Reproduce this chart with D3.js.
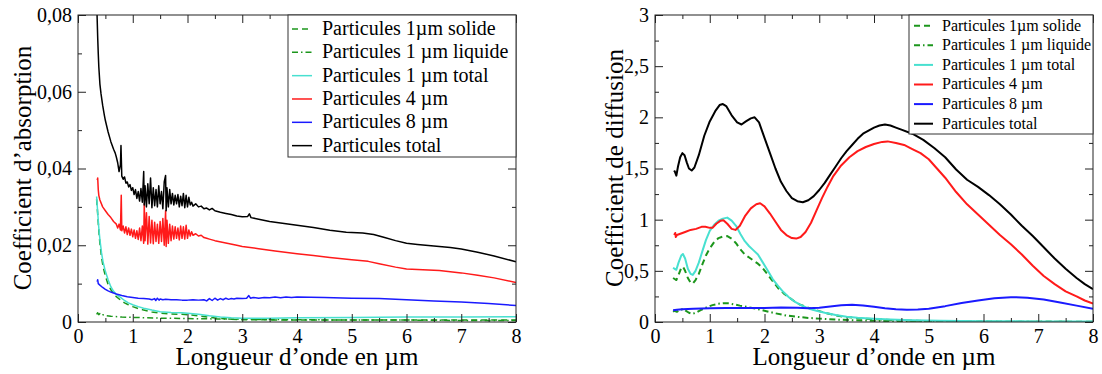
<!DOCTYPE html>
<html><head><meta charset="utf-8">
<script src="https://cdn.jsdelivr.net/npm/d3@7"></script>
<style>
body{margin:0;background:#fff}
svg{display:block}
</style>
</head><body>
<svg id="c" width="1102" height="374" style="font-family:'Liberation Serif','Tinos','DejaVu Serif',serif"></svg>
<script>
const FONT = "'Liberation Serif','Tinos','DejaVu Serif',serif";
// ---------- tick definitions ----------
const xTicks = [0,1,2,3,4,5,6,7,8];
const xMinorTicks = [0.5,1.5,2.5,3.5,4.5,5.5,6.5,7.5];
const absYTicks = [0,0.02,0.04,0.06,0.08];
const absYLabels = ["0","0,02","0,04","0,06","0,08"];
const absYMinor = [0.01,0.03,0.05,0.07];
const difYTicks = [0,0.5,1,1.5,2,2.5,3];
const difYLabels = ["0","0,5","1","1,5","2","2,5","3"];
const difYMinor = [0.25,0.75,1.25,1.75,2.25,2.75];

// ---------- legend ----------
const seriesNames = ["Particules 1µm solide","Particules 1 µm liquide","Particules 1 µm total","Particules 4 µm","Particules 8 µm","Particules total"];
const seriesColors = ["#1c961c","#1c961c","#48e0d0","#ff1a1a","#1a1aff","#000000"];
const seriesDash = ["6,4","6,3,1.5,3",null,null,null,null];

// ---------- absorption (left) : [wavelength µm, value] ----------
const absSolid = [[0.34,0.0320],[0.36,0.0280],[0.38,0.0238],[0.40,0.0205],[0.43,0.0168],[0.46,0.0143],[0.50,0.0120],[0.55,0.0098],[0.60,0.0084],[0.65,0.0074],[0.70,0.0066],[0.77,0.0058],[0.85,0.0050],[0.92,0.0045],[1.00,0.0040],[1.10,0.0035],[1.20,0.0031],[1.35,0.0026],[1.50,0.0023],[1.70,0.0021],[1.90,0.0020],[2.00,0.0019],[2.20,0.0016],[2.40,0.0012],[2.60,0.0009],[2.80,0.0007],[3.00,0.0006],[4.00,0.0005],[5.00,0.0005],[6.00,0.0005],[7.00,0.0005],[8.00,0.0005]];
const absLiquid = [[0.34,0.0020],[0.36,0.0024],[0.38,0.0019],[0.40,0.0022],[0.42,0.0018],[0.45,0.0019],[0.50,0.0017],[0.60,0.0015],[0.80,0.0013],[1.00,0.0012],[1.50,0.0010],[2.00,0.0009],[2.50,0.0008],[3.00,0.0007],[4.00,0.0006],[5.00,0.0005],[6.00,0.0005],[7.00,0.0004],[8.00,0.0004]];
const absOneTotal = [[0.34,0.0327],[0.36,0.0285],[0.38,0.0245],[0.40,0.0215],[0.43,0.0180],[0.46,0.0155],[0.50,0.0132],[0.55,0.0110],[0.60,0.0092],[0.65,0.0080],[0.70,0.0072],[0.77,0.0065],[0.85,0.0056],[0.92,0.0050],[1.00,0.0045],[1.10,0.0040],[1.20,0.0036],[1.35,0.0031],[1.50,0.0027],[1.70,0.0025],[1.90,0.0024],[2.00,0.0023],[2.20,0.0020],[2.40,0.0016],[2.60,0.0013],[2.80,0.0011],[3.00,0.0010],[3.50,0.0010],[4.00,0.0011],[5.00,0.0012],[6.00,0.0013],[7.00,0.0013],[8.00,0.0014]];
const absFour = [[0.35,0.0370],[0.36,0.0375],[0.37,0.0345],[0.38,0.0330],[0.40,0.0318],[0.45,0.0300],[0.50,0.0290],[0.55,0.0280],[0.60,0.0272],[0.65,0.0262],[0.70,0.0255],
[0.725,0.0245],[0.75,0.0255],[0.775,0.0240],[0.79,0.0330],[0.80,0.0238],[0.825,0.0250],[0.85,0.0232],[0.875,0.0248],[0.90,0.0228],[0.925,0.0245],[0.95,0.0226],[0.975,0.0242],[1.00,0.0222],[1.025,0.0240],[1.05,0.0218],[1.075,0.0238],[1.10,0.0215],[1.125,0.0245],[1.15,0.0212],[1.175,0.0250],[1.20,0.0205],[1.21,0.0308],[1.225,0.0212],[1.25,0.0285],[1.275,0.0203],[1.30,0.0275],[1.325,0.0206],[1.35,0.0265],[1.375,0.0204],[1.40,0.0260],[1.425,0.0210],[1.45,0.0255],[1.475,0.0205],[1.50,0.0262],[1.525,0.0210],[1.55,0.0270],[1.575,0.0200],[1.60,0.0290],[1.61,0.0197],[1.625,0.0265],[1.65,0.0205],[1.675,0.0255],[1.70,0.0212],[1.725,0.0250],[1.75,0.0216],[1.775,0.0248],[1.80,0.0218],[1.825,0.0245],[1.85,0.0214],[1.875,0.0250],[1.90,0.0218],[1.925,0.0248],[1.95,0.0216],[1.975,0.0252],[2.00,0.0218],[2.025,0.0240],[2.05,0.0224],[2.075,0.0235],[2.10,0.0226],
[2.15,0.0230],[2.20,0.0224],[2.25,0.0226],[2.30,0.0220],[2.35,0.0218],[2.40,0.0216],[2.50,0.0212],[2.70,0.0206],[2.90,0.0200],[3.00,0.0197],[3.30,0.0191],[3.60,0.0185],[4.00,0.0178],[4.30,0.0173],[4.60,0.0168],[5.00,0.0162],[5.30,0.0158],[5.50,0.0152],[5.80,0.0143],[6.00,0.0138],[6.30,0.0136],[6.60,0.0134],[7.00,0.0128],[7.30,0.0122],[7.60,0.0115],[8.00,0.0103]];
const absEight = [[0.35,0.0105],[0.36,0.0110],[0.37,0.0100],[0.40,0.0096],[0.45,0.0090],[0.50,0.0085],[0.55,0.0081],[0.60,0.0078],[0.70,0.0073],[0.80,0.0069],[0.90,0.0066],[1.00,0.0064],[1.10,0.0062],[1.20,0.0061],[1.30,0.0060],[1.35,0.0058],[1.40,0.0061],[1.42,0.0056],[1.45,0.0062],[1.48,0.0057],[1.50,0.0060],[1.55,0.0058],[1.60,0.0059],[1.70,0.0058],[1.80,0.0058],[1.90,0.0057],[2.00,0.0057],[2.10,0.0058],[2.20,0.0057],[2.30,0.0058],[2.35,0.0055],[2.40,0.0061],[2.45,0.0056],[2.50,0.0062],[2.55,0.0057],[2.60,0.0061],[2.65,0.0058],[2.70,0.0062],[2.75,0.0059],[2.80,0.0061],[2.85,0.0060],[2.90,0.0062],[3.00,0.0061],[3.08,0.0062],[3.12,0.0069],[3.15,0.0062],[3.20,0.0064],[3.30,0.0062],[3.40,0.0064],[3.50,0.0063],[3.60,0.0065],[3.70,0.0063],[3.80,0.0065],[3.90,0.0064],[4.00,0.0065],[4.50,0.0064],[5.00,0.0062],[5.50,0.0061],[6.00,0.0058],[6.50,0.0055],[7.00,0.0052],[7.50,0.0048],[8.00,0.0043]];
const absTotal = [[0.345,0.0820],[0.35,0.0790],[0.36,0.0740],[0.37,0.0700],[0.38,0.0665],[0.40,0.0620],[0.42,0.0595],[0.45,0.0565],[0.48,0.0540],[0.50,0.0525],[0.55,0.0495],[0.60,0.0470],[0.65,0.0450],[0.68,0.0440],[0.70,0.0430],
[0.725,0.0415],[0.75,0.0392],[0.775,0.0410],[0.785,0.0460],[0.80,0.0380],[0.825,0.0372],[0.85,0.0378],[0.875,0.0362],[0.90,0.0365],[0.925,0.0352],[0.95,0.0358],[0.975,0.0343],[1.00,0.0350],[1.025,0.0332],[1.05,0.0345],[1.075,0.0322],[1.10,0.0340],[1.125,0.0315],[1.15,0.0348],[1.175,0.0312],[1.20,0.0392],[1.21,0.0305],[1.225,0.0355],[1.25,0.0300],[1.275,0.0360],[1.30,0.0308],[1.325,0.0375],[1.35,0.0298],[1.375,0.0350],[1.40,0.0303],[1.425,0.0345],[1.45,0.0300],[1.475,0.0355],[1.50,0.0308],[1.525,0.0340],[1.55,0.0295],[1.575,0.0365],[1.60,0.0382],[1.61,0.0290],[1.625,0.0350],[1.65,0.0300],[1.675,0.0345],[1.70,0.0308],[1.725,0.0335],[1.75,0.0305],[1.775,0.0330],[1.80,0.0308],[1.825,0.0332],[1.85,0.0300],[1.875,0.0328],[1.90,0.0303],[1.925,0.0335],[1.95,0.0298],[1.975,0.0330],[2.00,0.0300],[2.025,0.0325],[2.05,0.0305],[2.075,0.0312],[2.10,0.0302],
[2.15,0.0308],[2.20,0.0300],[2.25,0.0302],[2.30,0.0295],[2.35,0.0297],[2.40,0.0292],[2.45,0.0296],[2.50,0.0290],[2.60,0.0286],[2.70,0.0283],[2.80,0.0280],[2.90,0.0276],[3.00,0.0274],[3.10,0.0275],[3.13,0.0282],[3.16,0.0272],[3.30,0.0268],[3.50,0.0262],[3.70,0.0258],[4.00,0.0252],[4.30,0.0246],[4.60,0.0239],[4.90,0.0234],[5.20,0.0232],[5.40,0.0228],[5.60,0.0220],[5.80,0.0212],[6.00,0.0205],[6.20,0.0202],[6.50,0.0198],[6.80,0.0194],[7.00,0.0190],[7.30,0.0182],[7.60,0.0172],[8.00,0.0157]];

// ---------- diffusion (right) : [wavelength µm, value] ----------
const difSolid = [[0.33,0.43],[0.36,0.42],[0.39,0.41],[0.43,0.46],[0.48,0.53],[0.51,0.54],[0.55,0.50],[0.60,0.43],[0.65,0.385],[0.69,0.375],[0.74,0.41],[0.80,0.47],[0.87,0.57],[0.93,0.65],[1.00,0.72],[1.08,0.78],[1.16,0.82],[1.24,0.835],[1.32,0.84],[1.40,0.815],[1.48,0.77],[1.56,0.71],[1.64,0.66],[1.72,0.63],[1.80,0.60],[1.88,0.57],[1.96,0.53],[2.05,0.47],[2.15,0.40],[2.25,0.33],[2.35,0.28],[2.45,0.24],[2.55,0.20],[2.65,0.17],[2.75,0.15],[2.85,0.13],[2.95,0.115],[3.10,0.09],[3.30,0.065],[3.50,0.048],[3.70,0.038],[4.00,0.027],[4.30,0.02],[4.70,0.013],[5.20,0.007],[6.00,0.004],[7.00,0.003],[8.00,0.002]];
const difLiquid = [[0.33,0.10],[0.36,0.11],[0.40,0.10],[0.45,0.115],[0.50,0.125],[0.55,0.115],[0.62,0.09],[0.68,0.08],[0.75,0.09],[0.85,0.12],[0.95,0.145],[1.05,0.165],[1.15,0.178],[1.25,0.183],[1.35,0.182],[1.45,0.172],[1.55,0.16],[1.70,0.145],[1.85,0.13],[2.00,0.11],[2.20,0.085],[2.40,0.063],[2.60,0.05],[2.80,0.04],[3.00,0.033],[3.30,0.024],[3.60,0.018],[4.00,0.012],[4.50,0.007],[5.00,0.004],[6.00,0.002],[8.00,0.001]];
const difOneTotal = [[0.33,0.53],[0.36,0.52],[0.39,0.51],[0.43,0.58],[0.48,0.65],[0.51,0.665],[0.55,0.62],[0.60,0.52],[0.65,0.47],[0.69,0.46],[0.74,0.50],[0.80,0.58],[0.87,0.70],[0.93,0.80],[1.00,0.89],[1.08,0.95],[1.16,0.99],[1.24,1.01],[1.32,1.02],[1.40,0.99],[1.48,0.94],[1.56,0.86],[1.64,0.79],[1.72,0.74],[1.80,0.70],[1.88,0.66],[1.96,0.59],[2.05,0.51],[2.15,0.42],[2.25,0.35],[2.35,0.29],[2.45,0.24],[2.55,0.20],[2.65,0.17],[2.75,0.145],[2.85,0.125],[2.95,0.11],[3.10,0.09],[3.30,0.068],[3.50,0.052],[3.70,0.042],[4.00,0.032],[4.30,0.025],[4.70,0.018],[5.20,0.012],[6.00,0.008],[7.00,0.006],[8.00,0.005]];
const difFour = [[0.35,0.85],[0.37,0.87],[0.38,0.83],[0.40,0.85],[0.45,0.86],[0.55,0.88],[0.65,0.90],[0.75,0.91],[0.85,0.93],[0.92,0.93],[1.00,0.92],[1.05,0.92],[1.12,0.96],[1.20,0.99],[1.25,0.995],[1.32,0.96],[1.40,0.91],[1.47,0.90],[1.55,0.94],[1.65,1.04],[1.75,1.11],[1.85,1.15],[1.92,1.16],[2.00,1.13],[2.10,1.06],[2.20,0.98],[2.30,0.90],[2.40,0.85],[2.50,0.82],[2.58,0.815],[2.66,0.83],[2.75,0.88],[2.85,0.97],[2.95,1.09],[3.05,1.21],[3.15,1.32],[3.25,1.42],[3.40,1.53],[3.55,1.61],[3.70,1.67],[3.85,1.71],[4.00,1.74],[4.15,1.76],[4.25,1.765],[4.40,1.75],[4.55,1.73],[4.70,1.69],[4.85,1.65],[5.00,1.59],[5.15,1.50],[5.30,1.41],[5.50,1.27],[5.70,1.15],[5.90,1.05],[6.10,0.95],[6.30,0.85],[6.50,0.76],[6.70,0.66],[6.90,0.55],[7.10,0.45],[7.30,0.37],[7.50,0.30],[7.70,0.25],[7.85,0.21],[8.00,0.18]];
const difEight = [[0.33,0.115],[0.40,0.12],[0.50,0.125],[0.70,0.13],[1.00,0.135],[1.30,0.137],[1.60,0.137],[2.00,0.138],[2.30,0.142],[2.60,0.14],[2.80,0.135],[3.00,0.14],[3.20,0.152],[3.40,0.163],[3.60,0.168],[3.80,0.162],[4.00,0.148],[4.20,0.135],[4.40,0.125],[4.60,0.12],[4.80,0.122],[5.00,0.13],[5.30,0.155],[5.60,0.185],[5.90,0.21],[6.20,0.232],[6.50,0.243],[6.80,0.238],[7.10,0.22],[7.40,0.19],[7.70,0.16],[8.00,0.13]];
const difTotal = [[0.35,1.48],[0.37,1.46],[0.39,1.43],[0.42,1.52],[0.46,1.61],[0.50,1.65],[0.54,1.63],[0.58,1.56],[0.62,1.50],[0.67,1.48],[0.72,1.51],[0.80,1.63],[0.90,1.82],[1.00,1.96],[1.10,2.06],[1.18,2.12],[1.24,2.13],[1.30,2.11],[1.40,2.02],[1.50,1.95],[1.58,1.93],[1.66,1.96],[1.75,1.99],[1.82,2.00],[1.90,1.95],[2.00,1.80],[2.10,1.65],[2.20,1.50],[2.30,1.37],[2.40,1.28],[2.50,1.21],[2.60,1.18],[2.70,1.17],[2.80,1.19],[2.90,1.23],[3.00,1.29],[3.10,1.36],[3.20,1.44],[3.30,1.52],[3.40,1.60],[3.50,1.67],[3.60,1.73],[3.70,1.79],[3.80,1.84],[3.90,1.87],[4.00,1.90],[4.10,1.92],[4.20,1.93],[4.30,1.92],[4.40,1.90],[4.50,1.88],[4.70,1.84],[4.90,1.78],[5.10,1.70],[5.30,1.61],[5.50,1.49],[5.70,1.39],[5.90,1.32],[6.10,1.24],[6.30,1.15],[6.50,1.05],[6.70,0.94],[6.90,0.84],[7.10,0.73],[7.30,0.62],[7.50,0.52],[7.70,0.43],[7.85,0.37],[8.00,0.32]];

const svg = d3.select("#c");
svg.append("rect").attr("width",1102).attr("height",374).attr("fill","#fff");

function txt(sel){ return sel.style("font-family",FONT).style("fill","#000"); }

function panel(cfg){
  const x = d3.scaleLinear().domain([0,8]).range([cfg.x0,cfg.x1]);
  const y = d3.scaleLinear().domain([0,cfg.yMax]).range([322,15]);
  const g = svg.append("g");
  const clipId = "clip"+cfg.id;
  svg.append("clipPath").attr("id",clipId).append("rect")
    .attr("x",cfg.x0).attr("y",15).attr("width",cfg.x1-cfg.x0).attr("height",307);

  const line = d3.line().x(d=>x(d[0])).y(d=>y(d[1]));
  const cg = g.append("g").attr("clip-path",`url(#${clipId})`);
  cfg.series.forEach((s,i)=>{
    cg.append("path").attr("d",line(s)).attr("fill","none")
      .attr("stroke",seriesColors[i]).attr("stroke-width",cfg.lw)
      .attr("stroke-linejoin","round")
      .attr("stroke-dasharray",seriesDash[i]);
  });

  const fmtX = d=>String(d);
  const yLab = new Map(cfg.yTicks.map((v,i)=>[v,cfg.yLabels[i]]));
  const styleAx = sel=>{
    sel.attr("font-family",null).attr("font-size",null);
    sel.select(".domain").remove();
    sel.selectAll("line").attr("stroke","#222");
    txt(sel.selectAll("text")).style("font-size","20px");
  };
  g.append("g").attr("transform","translate(0,322)")
    .call(d3.axisBottom(x).tickValues(xTicks).tickSize(-8).tickPadding(7).tickFormat(fmtX)).call(styleAx);
  g.append("g").attr("transform","translate(0,322)")
    .call(d3.axisBottom(x).tickValues(xMinorTicks).tickSize(-4).tickFormat("")).call(styleAx);
  g.append("g").attr("transform","translate(0,15)")
    .call(d3.axisTop(x).tickValues(xTicks).tickSize(-8).tickFormat("")).call(styleAx);
  g.append("g").attr("transform","translate(0,15)")
    .call(d3.axisTop(x).tickValues(xMinorTicks).tickSize(-4).tickFormat("")).call(styleAx);
  g.append("g").attr("transform",`translate(${cfg.x0},0)`)
    .call(d3.axisLeft(y).tickValues(cfg.yTicks).tickSize(-8).tickPadding(6).tickFormat(d=>yLab.get(d))).call(styleAx);
  g.append("g").attr("transform",`translate(${cfg.x0},0)`)
    .call(d3.axisLeft(y).tickValues(cfg.yMinor).tickSize(-4).tickFormat("")).call(styleAx);
  g.append("g").attr("transform",`translate(${cfg.x1},0)`)
    .call(d3.axisRight(y).tickValues(cfg.yTicks).tickSize(-8).tickFormat("")).call(styleAx);
  g.append("g").attr("transform",`translate(${cfg.x1},0)`)
    .call(d3.axisRight(y).tickValues(cfg.yMinor).tickSize(-4).tickFormat("")).call(styleAx);

  g.append("rect").attr("x",cfg.x0).attr("y",15).attr("width",cfg.x1-cfg.x0).attr("height",307)
    .attr("fill","none").attr("stroke","#222").attr("stroke-width",1);

  // titles
  txt(g.append("text").attr("x",(cfg.x0+cfg.x1)/2).attr("y",365).attr("text-anchor","middle"))
    .style("font-size","25px").text("Longueur d\u2019onde en µm");
  txt(g.append("text").attr("transform",`translate(${cfg.ytx},168) rotate(-90)`).attr("text-anchor","middle"))
    .style("font-size","25px").text(cfg.ytitle);

  // legend
  const L = cfg.leg;
  const lg = g.append("g");
  lg.append("rect").attr("x",L.x).attr("y",15).attr("width",cfg.x1-L.x).attr("height",L.bottom-15)
    .attr("fill","#fff").attr("stroke","#333").attr("stroke-width",1);
  seriesNames.forEach((n,i)=>{
    const by = L.first + i*L.step;
    lg.append("line").attr("x1",L.lx0).attr("x2",L.lx1).attr("y1",by-L.fs*0.3).attr("y2",by-L.fs*0.3)
      .attr("stroke",seriesColors[i]).attr("stroke-width",cfg.lw).attr("stroke-dasharray",seriesDash[i]);
    txt(lg.append("text").attr("x",L.tx).attr("y",by)).style("font-size",L.fs+"px").text(n);
  });
}

panel({id:"a",x0:78,x1:516,yMax:0.08,yTicks:absYTicks,yLabels:absYLabels,yMinor:absYMinor,
  series:[absSolid,absLiquid,absOneTotal,absFour,absEight,absTotal],lw:1.5,
  ytitle:"Coefficient d\u2019absorption",ytx:31,
  leg:{x:288,bottom:157,first:35,step:23.33,fs:20,lx0:292,lx1:312,tx:322}});

panel({id:"b",x0:655,x1:1093,yMax:3,yTicks:difYTicks,yLabels:difYLabels,yMinor:difYMinor,
  series:[difSolid,difLiquid,difOneTotal,difFour,difEight,difTotal],lw:2,
  ytitle:"Coefficient de diffusion",ytx:623,
  leg:{x:909,bottom:134,first:30.5,step:19.6,fs:16,lx0:914,lx1:933,tx:942}});
</script>
</body></html>
